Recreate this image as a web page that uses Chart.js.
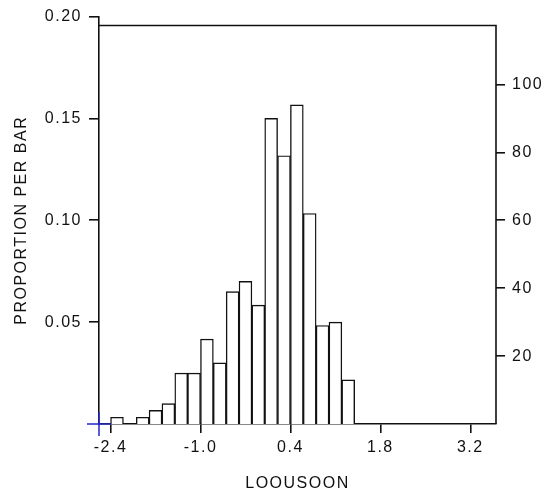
<!DOCTYPE html>
<html><head><meta charset="utf-8">
<script src="https://cdn.jsdelivr.net/npm/chart.js@4"></script>
<style>html,body{margin:0;padding:0;background:#fff;} #wrap{width:548px;height:493px;position:relative;}</style>
</head><body><div id="wrap"><canvas id="c"></canvas></div>
<script>
// ---- data ----
const binLower = [-2.4,-2.2,-2.0,-1.8,-1.6,-1.4,-1.2,-1.0,-0.8,-0.6,-0.4,-0.2,0.0,0.2,0.4,0.6,0.8,1.0,1.2];
const binWidth = 0.2;
const counts = [2,0,2,4,6,15,15,25,18,39,42,35,90,79,94,62,29,30,13];
const xTickValues = [-2.4,-1.0,0.4,1.8,3.2];
const proportionTicks = [0.05,0.10,0.15,0.20];
const countTicks = [20,40,60,80,100];
const xTitle = 'LOOUSOON';
const yLeftTitle = 'PROPORTION PER BAR';

// ---- styles / layout ----
const FONT = {family: '"Liberation Sans", Arial, sans-serif', size: 16};
const INK = '#111';
const LW = 1.6;
const xRange = {min: -2.58, max: 3.6};
const proportionMax = 0.20;
const frameTopProportion = 0.1956;
const total = counts.reduce((a, b) => a + b, 0);

const barData = binLower.map((lo, i) => ({x: lo + binWidth / 2, y: counts[i]}));

const framePlugin = {
  id: 'frame',
  beforeDraw(chart) { chart.ctx.letterSpacing = '1.5px'; },
  afterDraw(chart) {
    const {ctx, chartArea, scales} = chart;
    const yTop = scales.yL.getPixelForValue(frameTopProportion);
    ctx.save();
    ctx.strokeStyle = INK; ctx.lineWidth = LW;
    ctx.beginPath();
    ctx.moveTo(chartArea.left, yTop);
    ctx.lineTo(chartArea.right, yTop);
    ctx.lineTo(chartArea.right, chartArea.bottom);
    ctx.stroke();
    // blue origin cross
    const ox = scales.x.getPixelForValue(xRange.min);
    const oy = scales.yL.getPixelForValue(0);
    ctx.strokeStyle = '#2626c8'; ctx.lineWidth = 1.5;
    ctx.beginPath();
    ctx.moveTo(ox - 12, oy); ctx.lineTo(ox + 12, oy);
    ctx.moveTo(ox, oy - 12); ctx.lineTo(ox, oy + 12);
    ctx.stroke();
    ctx.restore();
  }
};

new Chart(document.getElementById('c'), {
  type: 'bar',
  data: {
    datasets: [{
      data: barData,
      yAxisID: 'yR',
      backgroundColor: '#fff',
      borderColor: INK,
      borderWidth: 1.4,
      barPercentage: 1,
      categoryPercentage: 1
    }]
  },
  options: {
    responsive: true,
    maintainAspectRatio: false,
    animation: false,
    layout: {padding: {top: 16, left: 0, right: 0, bottom: 0}},
    plugins: {legend: {display: false}, tooltip: {enabled: false}},
    scales: {
      x: {
        type: 'linear',
        min: xRange.min, max: xRange.max,
        offset: false,
        afterBuildTicks: s => { s.ticks = xTickValues.map(v => ({value: v})); },
        afterFit: s => { s.height = 69; },
        grid: {offset: false, drawOnChartArea: false, drawTicks: true, tickLength: 9, color: INK, lineWidth: LW},
        border: {display: true, color: INK, width: LW},
        ticks: {color: INK, font: FONT, padding: 5, maxRotation: 0, autoSkip: false,
          callback: v => v.toFixed(1)},
        title: {display: true, text: xTitle, color: INK, font: FONT, padding: {top: 0, bottom: 0}}
      },
      yL: {
        type: 'linear', position: 'left',
        min: 0, max: proportionMax,
        afterBuildTicks: s => { s.ticks = proportionTicks.map(v => ({value: v})); },
        afterFit: s => { s.width = 99; },
        grid: {drawOnChartArea: false, drawTicks: true, tickLength: 10, color: INK, lineWidth: LW},
        border: {display: true, color: INK, width: LW},
        ticks: {color: INK, font: FONT, padding: 7, callback: v => v.toFixed(2)},
        title: {display: true, text: yLeftTitle, color: INK, font: FONT, padding: {top: 12, bottom: 0}}
      },
      yR: {
        type: 'linear', position: 'right',
        min: 0, max: proportionMax * total,
        afterBuildTicks: s => { s.ticks = countTicks.map(v => ({value: v})); },
        afterFit: s => { s.width = 52; },
        grid: {drawOnChartArea: false, drawTicks: true, tickLength: 9, color: INK, lineWidth: LW},
        border: {display: false},
        ticks: {color: INK, font: FONT, padding: 7, callback: v => String(v)}
      }
    }
  },
  plugins: [framePlugin]
});
</script>
</body></html>
